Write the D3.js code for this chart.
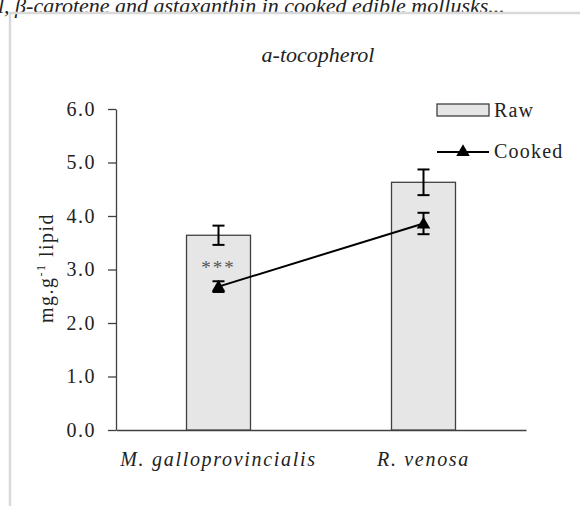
<!DOCTYPE html>
<html>
<head>
<meta charset="utf-8">
<script src="https://cdn.jsdelivr.net/npm/d3@7"></script>
<style>
  html, body { margin: 0; padding: 0; background: #fff; }
  svg { display: block; }
  text { font-family: "Liberation Serif", "Times New Roman", serif; fill: #222; }
</style>
</head>
<body>
<svg width="580" height="506"></svg>
<script>
(function (d3) {
  'use strict';

  const species = ['M. galloprovincialis', 'R. venosa'];
  const rawValues = [3.64, 4.63];
  const rawErrors = [0.18, 0.24];
  const cookedValues = [2.68, 3.86];
  const cookedErrors = [0.1, 0.2];
  const significance = ['***', ''];
  const yTicks = [0, 1, 2, 3, 4, 5, 6];

  const svg = d3.select('svg');

  // caption fragment cut at the top of the picture
  svg.append('text')
      .attr('x', -2)
      .attr('y', 13)
      .attr('font-size', 22)
      .attr('font-style', 'italic')
      .text('l, β-carotene and astaxanthin in cooked edible mollusks...');

  // light gray panel border
  svg.append('path')
      .attr('d', 'M10,506 V13 H580')
      .attr('fill', 'none')
      .attr('stroke', '#d9d9d9')
      .attr('stroke-width', 2.5);

  const margin = { top: 109, left: 116, right: 54, bottom: 76 };
  const innerW = 580 - margin.left - margin.right;
  const innerH = 506 - margin.top - margin.bottom;

  const x = d3.scaleBand().domain(species).range([0, innerW]);
  const y = d3.scaleLinear().domain([0, 6]).range([innerH, 0]);
  const barW = 64;

  const g = svg.append('g')
      .attr('transform', `translate(${margin.left},${margin.top})`);

  svg.append('text')
      .attr('x', 318)
      .attr('y', 62)
      .attr('text-anchor', 'middle')
      .attr('font-size', 22)
      .attr('font-style', 'italic')
      .text('a-tocopherol');

  // y axis
  const yAxis = g.append('g')
      .call(d3.axisLeft(y).tickValues(yTicks).tickFormat(d3.format('.1f')).tickSize(8).tickSizeOuter(0));
  yAxis.select('.domain').attr('stroke', '#404040').attr('stroke-width', 1.3);
  yAxis.selectAll('.tick line').attr('stroke', '#404040').attr('stroke-width', 1.3);
  yAxis.selectAll('.tick text')
      .attr('x', -20)
      .attr('font-size', 20)
      .attr('letter-spacing', 1.5)
      .attr('font-family', '"Liberation Serif", serif')
      .attr('fill', '#1a1a1a');

  // x axis
  const xAxis = g.append('g')
      .attr('transform', `translate(0,${innerH})`)
      .call(d3.axisBottom(x).tickSize(0).tickSizeOuter(0));
  xAxis.select('.domain').attr('stroke', '#404040').attr('stroke-width', 1.3);
  xAxis.selectAll('.tick text')
      .attr('y', 22)
      .attr('dy', '0.71em')
      .attr('font-size', 20)
      .attr('letter-spacing', 1.7)
      .attr('font-style', 'italic')
      .attr('font-family', '"Liberation Serif", serif')
      .attr('fill', '#1a1a1a');

  // raw bars
  g.selectAll('rect.bar').data(species)
    .enter().append('rect')
      .attr('class', 'bar')
      .attr('x', d => x(d) + x.bandwidth() / 2 - barW / 2)
      .attr('y', (d, i) => y(rawValues[i]))
      .attr('width', barW)
      .attr('height', (d, i) => innerH - y(rawValues[i]))
      .attr('fill', '#e6e6e6')
      .attr('stroke', '#404040')
      .attr('stroke-width', 1.3);

  const cx = d => x(d) + x.bandwidth() / 2;

  function errorBars(values, errors, cls) {
    const eb = g.selectAll('g.' + cls).data(species)
      .enter().append('g').attr('class', cls)
        .attr('stroke', '#000').attr('stroke-width', 2);
    eb.append('line')
        .attr('x1', cx).attr('x2', cx)
        .attr('y1', (d, i) => y(values[i] + errors[i]))
        .attr('y2', (d, i) => y(values[i] - errors[i]));
    eb.append('line')
        .attr('x1', d => cx(d) - 6).attr('x2', d => cx(d) + 6)
        .attr('y1', (d, i) => y(values[i] + errors[i]))
        .attr('y2', (d, i) => y(values[i] + errors[i]));
    eb.append('line')
        .attr('x1', d => cx(d) - 6).attr('x2', d => cx(d) + 6)
        .attr('y1', (d, i) => y(values[i] - errors[i]))
        .attr('y2', (d, i) => y(values[i] - errors[i]));
  }

  errorBars(rawValues, rawErrors, 'raw-err');

  // significance stars
  g.selectAll('text.sig').data(species)
    .enter().append('text')
      .attr('class', 'sig')
      .attr('x', cx)
      .attr('y', (d, i) => y(cookedValues[i]) - 13)
      .attr('text-anchor', 'middle')
      .attr('font-size', 19)
      .attr('letter-spacing', 2)
      .style('fill', '#555')
      .text((d, i) => significance[i]);

  // cooked line
  const line = d3.line().x(d => cx(d)).y((d, i) => y(cookedValues[i]));
  g.append('path')
      .datum(species)
      .attr('d', line)
      .attr('fill', 'none')
      .attr('stroke', '#000')
      .attr('stroke-width', 2);

  errorBars(cookedValues, cookedErrors, 'cooked-err');

  const tri = d3.symbol().type(d3.symbolTriangle).size(80);
  g.selectAll('path.pt').data(species)
    .enter().append('path')
      .attr('class', 'pt')
      .attr('d', tri)
      .attr('transform', (d, i) => `translate(${cx(d)},${y(cookedValues[i]) + 1})`)
      .attr('fill', '#000');

  // legend
  const legend = svg.append('g').attr('transform', 'translate(437,0)');
  legend.append('rect')
      .attr('x', 0).attr('y', 104).attr('width', 52).attr('height', 12)
      .attr('fill', '#e6e6e6').attr('stroke', '#404040').attr('stroke-width', 1.3);
  legend.append('text')
      .attr('x', 57).attr('y', 117).attr('font-size', 20).attr('letter-spacing', 1.2).text('Raw');
  legend.append('line')
      .attr('x1', 0).attr('x2', 52).attr('y1', 152).attr('y2', 152)
      .attr('stroke', '#000').attr('stroke-width', 2);
  legend.append('path')
      .attr('d', tri)
      .attr('transform', 'translate(26,152)')
      .attr('fill', '#000');
  legend.append('text')
      .attr('x', 57).attr('y', 158).attr('font-size', 20).attr('letter-spacing', 1.2).text('Cooked');

  // y label
  const yl = svg.append('text')
      .attr('transform', 'translate(53,268) rotate(-90)')
      .attr('text-anchor', 'middle')
      .attr('font-size', 20)
      .attr('letter-spacing', 1.5);
  yl.append('tspan').text('mg.g');
  yl.append('tspan').attr('dy', -8).attr('font-size', 12).text('-1');
  yl.append('tspan').attr('dy', 8).text(' lipid');

}(d3));
</script>
</body>
</html>
